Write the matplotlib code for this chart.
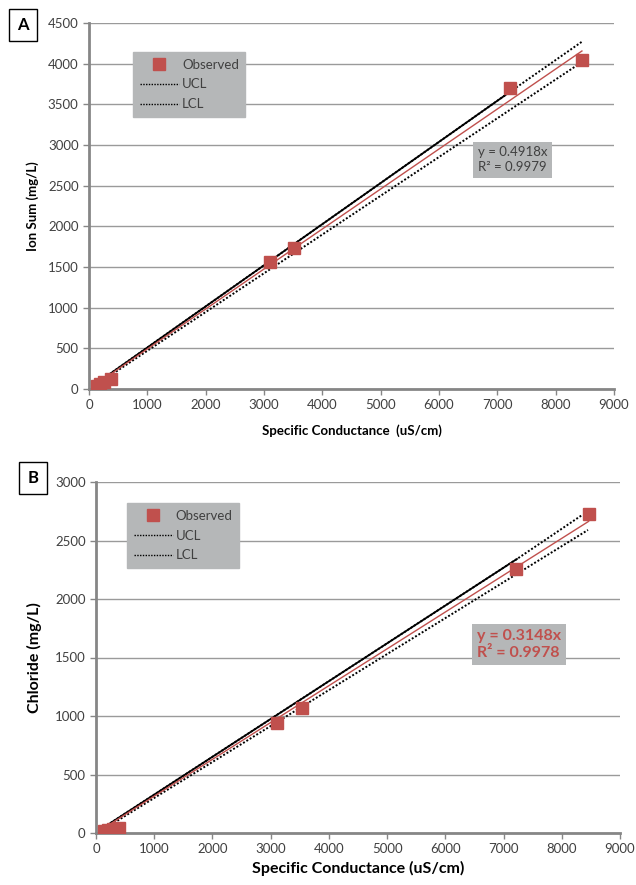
import matplotlib.pyplot as plt
from matplotlib.lines import Line2D

plt.rcParams['font.family'] = ['Lato', 'DejaVu Sans']

# panel A: ion sum vs specific conductance
cond_a = [130, 180, 250, 370, 3110, 3520, 7210, 8450]
ion_sum = [40, 60, 85, 120, 1560, 1730, 3700, 4040]
slope_a = 0.4918
r2_a = 0.9979
ucl_a_x = [130, 7190, 8450]
ucl_a_y = [70, 3640, 4270]
lcl_a_x = [130, 8450]
lcl_a_y = [55, 4020]

# panel B: chloride vs specific conductance
cond_b = [140, 200, 290, 390, 3110, 3540, 7220, 8460]
chloride = [15, 25, 35, 45, 940, 1065, 2255, 2725]
slope_b = 0.3148
r2_b = 0.9978
ucl_b_x = [140, 7230, 8350]
ucl_b_y = [50, 2342, 2718]
lcl_b_x = [140, 8450]
lcl_b_y = [35, 2590]

red = '#c0504d'
axis_grey = '#868686'
box_grey = '#b5b7b8'
text_grey = '#404040'

fig = plt.figure(figsize=(6.36, 8.85), dpi=100)


def draw_panel(ax, x, y, slope, r2, ux, uy, lx, ly, ymax, ystep):
    ax.set_xlim(0, 9000)
    ax.set_ylim(0, ymax)
    ax.set_xticks(range(0, 9001, 1000))
    ax.set_yticks(range(0, ymax + 1, ystep))
    ax.yaxis.grid(True, color='#9a9a9a', lw=1.0)
    ax.set_axisbelow(True)
    for s in ['top', 'right']:
        ax.spines[s].set_visible(False)
    for s in ['left', 'bottom']:
        ax.spines[s].set_color(axis_grey)
        ax.spines[s].set_linewidth(2)
    ax.tick_params(colors=axis_grey, labelcolor=text_grey, labelsize=9.5,
                   length=4, width=1)

    xs = [min(x), max(x)]
    ax.plot(xs, [slope * v for v in xs], color=red, lw=1.0, zorder=3)
    ax.plot(ux[:2], uy[:2], color='black', lw=1.3, zorder=2)
    ax.plot(ux, uy, color='black', lw=1.4, ls=(0, (1, 1)), zorder=2)
    ax.plot(lx, ly, color='black', lw=1.4, ls=(0, (1, 1)), zorder=2)
    ax.plot(x, y, 's', color=red, ms=9, zorder=4)


ax_a = fig.add_axes([89 / 636, 1 - 389 / 885, 525 / 636, 366 / 885])
draw_panel(ax_a, cond_a, ion_sum, slope_a, r2_a, ucl_a_x, ucl_a_y,
           lcl_a_x, lcl_a_y, 4500, 500)
ax_a.set_xlabel('Specific Conductance  (uS/cm)', fontsize=9.5,
                fontweight='bold', color='black', labelpad=9)
ax_a.set_ylabel('Ion Sum (mg/L)', fontsize=9.5, fontweight='bold',
                color='black', labelpad=6)

ax_b = fig.add_axes([96 / 636, 1 - 833 / 885, 524 / 636, 351 / 885])
draw_panel(ax_b, cond_b, chloride, slope_b, r2_b, ucl_b_x, ucl_b_y,
           lcl_b_x, lcl_b_y, 3000, 500)
ax_b.set_xlabel('Specific Conductance (uS/cm)', fontsize=11.5,
                fontweight='bold', color='black', labelpad=4)
ax_b.set_ylabel('Chloride (mg/L)', fontsize=11.5, fontweight='bold',
                color='black', labelpad=9)

handles = [
    Line2D([], [], marker='s', color=red, ls='none', ms=8),
    Line2D([], [], color='black', lw=1, ls=(0, (1, 1))),
    Line2D([], [], color='black', lw=1, ls=(0, (1, 1))),
]
labels = ['Observed', 'UCL', 'LCL']
for ax, anchor in [(ax_a, (0.084, 0.921)), (ax_b, (0.059, 0.940))]:
    leg = ax.legend(handles, labels, loc='upper left', bbox_to_anchor=anchor,
                    fontsize=9.5, frameon=True, fancybox=False,
                    facecolor=box_grey, edgecolor=box_grey, framealpha=1,
                    handlelength=3.0, handletextpad=0.2, labelspacing=0.6,
                    borderpad=0.5, borderaxespad=0)
    for t in leg.get_texts():
        t.set_color(text_grey)

# trendline equations
ax_a.text(0.74, 0.626, 'y = %.4fx\nR\u00b2 = %.4f' % (slope_a, r2_a),
          transform=ax_a.transAxes, fontsize=9.5, color=text_grey,
          va='center', ha='left', linespacing=1.3,
          bbox=dict(boxstyle='square,pad=0.35', fc=box_grey, ec='none'))
ax_b.text(0.727, 0.537, 'y = %.4fx\nR\u00b2 = %.4f' % (slope_b, r2_b),
          transform=ax_b.transAxes, fontsize=11.5, color=red,
          fontweight='bold', va='center', ha='left', linespacing=1.3,
          bbox=dict(boxstyle='square,pad=0.3', fc=box_grey, ec='none'))

# panel letters
for txt, (px, py) in [('A', (23, 25)), ('B', (33, 478))]:
    fig.text(px / 636, 1 - py / 885, txt, fontsize=12, fontweight='bold',
             ha='center', va='center',
             bbox=dict(boxstyle='square,pad=0.5', fc='white', ec='black',
                       lw=1))

fig.savefig('out.png', dpi=100)
